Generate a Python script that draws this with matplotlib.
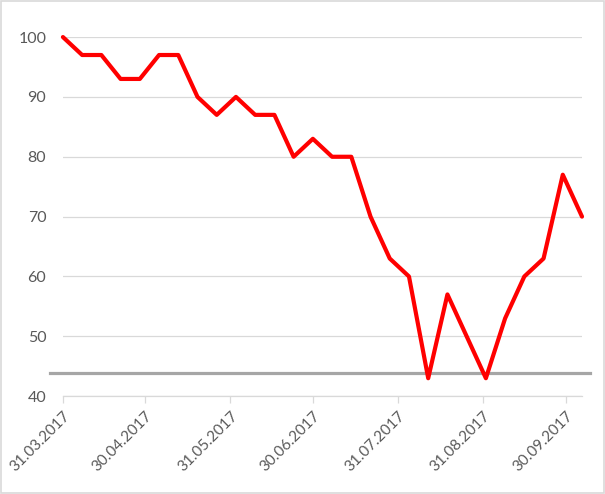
#
# plot.py
# -------
#

import datetime as dt

import matplotlib
matplotlib.use("Agg")
import matplotlib.pyplot as plt
import matplotlib.dates as mdates
from matplotlib.patches import Rectangle

start = dt.date(2017, 3, 31)
values = [100, 97, 97, 93, 93, 97, 97, 90, 87, 90, 87, 87, 80, 83,
          80, 80, 70, 63, 60, 43, 57, 50, 43, 53, 60, 63, 77, 70]
dates = [start + dt.timedelta(days=7 * i) for i in range(len(values))]
tick_dates = [dt.date(2017, 3, 31), dt.date(2017, 4, 30), dt.date(2017, 5, 31),
              dt.date(2017, 6, 30), dt.date(2017, 7, 31), dt.date(2017, 8, 31),
              dt.date(2017, 9, 30)]
threshold = 43.8

plt.rcParams['font.family'] = ['Lato', 'DejaVu Sans']
grey_txt = '#595959'
grid_col = '#D9D9D9'

fig = plt.figure(figsize=(6.05, 4.94), dpi=100)
ax = fig.add_axes([0.104, 0.198, 0.858, 0.727])

ax.plot(dates, values, color='#FF0000', lw=3, solid_joinstyle='round',
        solid_capstyle='round', clip_on=False, zorder=3)
ax.axhline(threshold, xmin=-0.025, xmax=1.015, color='#A6A6A6', lw=2.3,
           clip_on=False, zorder=2)

ax.set_ylim(40, 100)
ax.set_yticks(range(40, 101, 10))
ax.set_xlim(dates[0], dates[-1] + dt.timedelta(days=0.5))
ax.set_xticks(tick_dates)
ax.xaxis.set_major_formatter(mdates.DateFormatter('%d.%m.%Y'))

ax.grid(axis='y', color=grid_col, lw=0.9)
ax.set_axisbelow(True)
for s in ['top', 'right', 'left']:
    ax.spines[s].set_visible(False)
ax.spines['bottom'].set_color(grid_col)
ax.spines['bottom'].set_linewidth(0.9)

ax.tick_params(axis='y', length=0, pad=12, labelsize=11.5, labelcolor=grey_txt)
ax.tick_params(axis='x', length=5, color=grid_col, width=0.9, pad=4,
               labelsize=11, labelcolor=grey_txt)
for lab in ax.get_xticklabels():
    lab.set_rotation(45)
    lab.set_ha('right')
    lab.set_rotation_mode('anchor')

fig.patches.append(Rectangle((0.002, 0.002), 0.996, 0.996, transform=fig.transFigure,
                             fill=False, edgecolor='#D9D9D9', lw=1.2))

fig.savefig('out.png', dpi=100)
